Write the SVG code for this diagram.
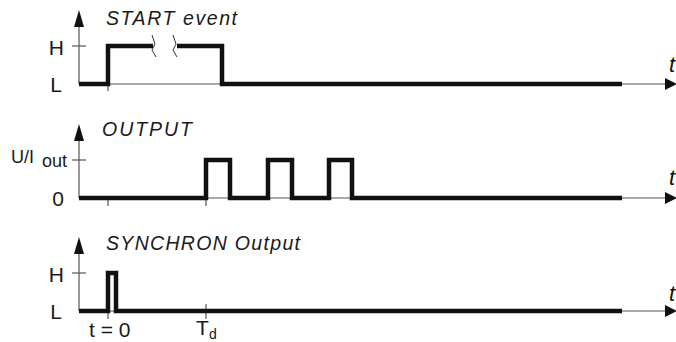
<svg xmlns="http://www.w3.org/2000/svg" width="676" height="342" viewBox="0 0 676 342">
<defs>
<style>
.axis{stroke:#555;stroke-width:1.2;fill:none}
.sig{stroke:#111;stroke-width:4.5;fill:none;stroke-linejoin:miter;stroke-linecap:butt}
.brk{stroke:#333;stroke-width:1;fill:none}
.head{fill:#111}
.lbl{font-family:"Liberation Sans",Arial,sans-serif;font-size:21px;fill:#1a1a1a}
.ttl{font-family:"Liberation Sans",Arial,sans-serif;font-size:19.5px;font-style:italic;fill:#1a1a1a}
.t{font-family:"Liberation Sans",Arial,sans-serif;font-size:22px;font-style:italic;fill:#111}
</style>
</defs>
<rect width="676" height="342" fill="#fff"/>
<g id="connectors">
<g id="axes1">
<line class="axis" x1="79" y1="26" x2="79" y2="84"/>
<polygon class="head" points="79,10 74,27 84,27"/>
<line class="axis" x1="79" y1="84" x2="668" y2="84"/>
<polygon class="head" points="677,84 665,78 665,90"/>
<line class="axis" x1="72" y1="46" x2="86" y2="46"/>
<line class="axis" x1="108" y1="84" x2="108" y2="91"/>
</g>
<g id="axes2">
<line class="axis" x1="79" y1="140" x2="79" y2="198"/>
<polygon class="head" points="79,124 74,141 84,141"/>
<line class="axis" x1="79" y1="198" x2="668" y2="198"/>
<polygon class="head" points="677,198 665,192 665,204"/>
<line class="axis" x1="72" y1="160" x2="86" y2="160"/>
<line class="axis" x1="108" y1="198" x2="108" y2="206"/>
<line class="axis" x1="206" y1="198" x2="206" y2="206"/>
</g>
<g id="axes3">
<line class="axis" x1="79" y1="253" x2="79" y2="311"/>
<polygon class="head" points="79,237 74,254 84,254"/>
<line class="axis" x1="79" y1="311" x2="668" y2="311"/>
<polygon class="head" points="677,311 665,305 665,317"/>
<line class="axis" x1="72" y1="273" x2="86" y2="273"/>
<line class="axis" x1="108" y1="311" x2="108" y2="319"/>
<line class="axis" x1="206" y1="304" x2="206" y2="319"/>
</g>
</g>
<g id="signal-start">
<path class="sig" d="M79,84 H108 V46 H153"/>
<path class="sig" d="M177,46 H222 V84 H622"/>
<path class="brk" d="M152,35 L155,44 L152,50 L156,57"/>
<path class="brk" d="M173,35 L176,44 L173,50 L177,57"/>
</g>
<g id="signal-output">
<path class="sig" d="M79,198 H206 V160 H230 V198 H268 V160 H292 V198 H329 V160 H352 V198 H622"/>
</g>
<g id="signal-synchron">
<path class="sig" d="M79,311 H108 V273 H116 V311 H622"/>
</g>
<g id="labels">
<text class="ttl" x="106" y="25" textLength="131" lengthAdjust="spacing">START event</text>
<text class="ttl" x="102" y="136" textLength="90" lengthAdjust="spacing">OUTPUT</text>
<text class="ttl" x="106" y="250" textLength="194" lengthAdjust="spacing">SYNCHRON Output</text>
<text class="lbl" x="64" y="55" text-anchor="end">H</text>
<text class="lbl" x="62" y="92" text-anchor="end">L</text>
<text class="lbl" x="11" y="163" style="font-size:18px">U/I</text>
<text class="lbl" x="42" y="167" style="font-size:18px">out</text>
<text class="lbl" x="64" y="206" text-anchor="end">0</text>
<text class="lbl" x="64" y="282" text-anchor="end">H</text>
<text class="lbl" x="62" y="319" text-anchor="end">L</text>
<text class="lbl" x="89" y="337">t = 0</text>
<text class="lbl" x="196" y="335">T</text>
<text class="lbl" x="209" y="339" style="font-size:14px">d</text>
<text class="t" x="669" y="72">t</text>
<text class="t" x="669" y="185">t</text>
<text class="t" x="669" y="301">t</text>
</g>
</svg>
